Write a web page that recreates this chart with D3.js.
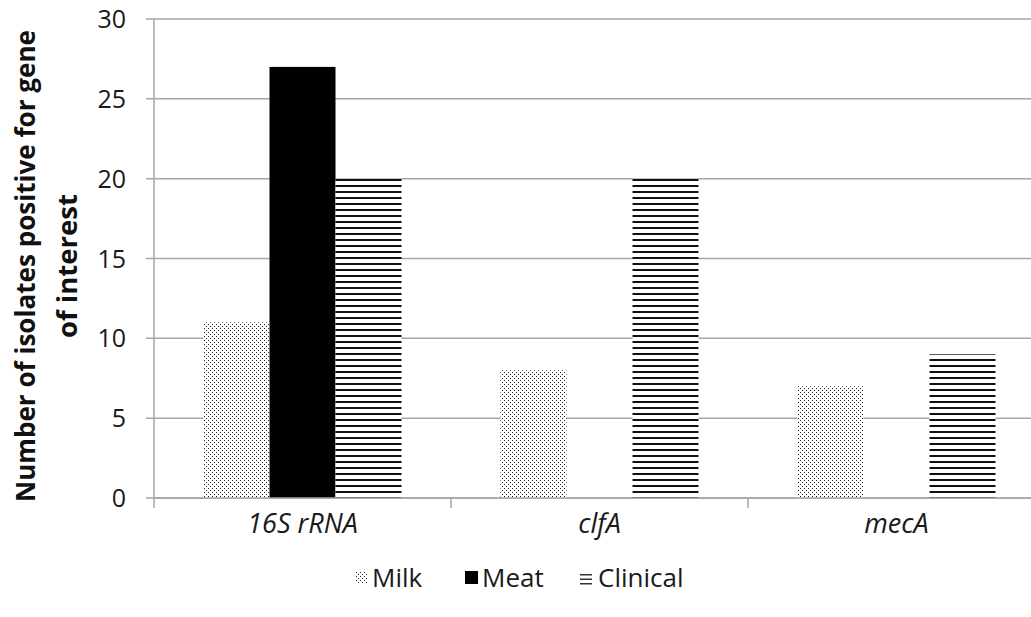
<!DOCTYPE html>
<html><head><meta charset="utf-8">
<script src="https://cdn.jsdelivr.net/npm/d3@7"></script>
<style>body{margin:0;background:#fff;} svg{display:block;}</style>
</head><body><svg id="c" width="1031" height="617"></svg>
<script>
const categories = ["16S rRNA", "clfA", "mecA"];
const seriesNames = ["Milk", "Meat", "Clinical"];
const milk = [11, 8, 7];
const meat = [27, 0, 0];
const clinical = [20, 20, 9];
const yTicks = [0, 5, 10, 15, 20, 25, 30];
const yTitle = ["Number of isolates positive for gene", "of interest"];

const values = [milk, meat, clinical];
const svg = d3.select("#c");
const font = "'Open Sans', 'Liberation Sans', Arial, sans-serif";
const margin = {left: 154, top: 19, bottom: 498, right: 1045};

const defs = svg.append("defs");
const pd = defs.append("pattern").attr("id","dots").attr("patternUnits","userSpaceOnUse")
  .attr("width",4).attr("height",4);
pd.append("rect").attr("width",4).attr("height",4).attr("fill","#fff");
pd.append("rect").attr("x",0).attr("y",0).attr("width",1).attr("height",1).attr("fill","#222");
pd.append("rect").attr("x",2).attr("y",2).attr("width",1).attr("height",1).attr("fill","#222");
const ph = defs.append("pattern").attr("id","hlines").attr("patternUnits","userSpaceOnUse")
  .attr("width",6).attr("height",6).attr("y",1);
ph.append("rect").attr("width",6).attr("height",6).attr("fill","#fff");
ph.append("rect").attr("x",0).attr("y",4).attr("width",6).attr("height",2).attr("fill","#111");
const fills = ["url(#dots)", "#000", "url(#hlines)"];

const y = d3.scaleLinear().domain([0,30]).range([margin.bottom, margin.top]);
const x0 = d3.scaleBand().domain(categories).range([margin.left, margin.right]).paddingInner(0).paddingOuter(0);
const x1 = d3.scaleBand().domain(seriesNames).range([0, x0.bandwidth()]).paddingOuter(0.75).paddingInner(0);

// gridlines
svg.append("g").selectAll("line").data(yTicks).join("line")
  .attr("x1", margin.left - 8).attr("x2", margin.right)
  .attr("y1", d=>y(d)).attr("y2", d=>y(d))
  .attr("stroke","#a6a6a6").attr("stroke-width",1.5);

// y axis line
svg.append("line").attr("x1",margin.left).attr("x2",margin.left)
  .attr("y1",y(30)).attr("y2",y(0)).attr("stroke","#a6a6a6").attr("stroke-width",1.5);

// bars
const g = svg.append("g");
categories.forEach((c,i)=>{
  seriesNames.forEach((s,j)=>{
    const v = values[j][i];
    if (v<=0) return;
    g.append("rect").attr("x", x0(c)+x1(s)).attr("width", x1.bandwidth())
      .attr("y", y(v)).attr("height", y(0)-y(v)).attr("fill", fills[j]);
  });
});

// x axis line + ticks
svg.append("line").attr("x1",margin.left).attr("x2",margin.right)
  .attr("y1",y(0)).attr("y2",y(0)).attr("stroke","#a6a6a6").attr("stroke-width",1.5);
const catEdges = categories.map(c=>x0(c)).concat([margin.right]);
svg.append("g").selectAll("line").data(catEdges).join("line")
  .attr("x1",d=>d).attr("x2",d=>d).attr("y1",y(0)).attr("y2",y(0)+10)
  .attr("stroke","#a6a6a6").attr("stroke-width",1.5);

// y tick labels
svg.append("g").selectAll("text").data(yTicks).join("text")
  .attr("x", 126).attr("y", d=>y(d)+9).attr("text-anchor","end")
  .attr("font-family",font).attr("font-size",25).attr("fill","#1a1a1a").text(d=>d);

// category labels
svg.append("g").selectAll("text").data(categories).join("text")
  .attr("x", d=>x0(d)+x0.bandwidth()/2).attr("y", 533).attr("text-anchor","middle")
  .attr("font-family",font).attr("font-size",27).attr("font-style","italic").attr("fill","#1a1a1a").text(d=>d);

// y title
const yt = svg.append("text").attr("transform","translate(0,266) rotate(-90)")
  .attr("text-anchor","middle").attr("font-family",font).attr("font-size",26).attr("font-weight","bold").attr("fill","#111");
yt.append("tspan").attr("x",0).attr("y",35).attr("textLength",472).attr("lengthAdjust","spacingAndGlyphs").text(yTitle[0]);
yt.append("tspan").attr("x",0).attr("y",77).attr("textLength",144).attr("lengthAdjust","spacingAndGlyphs").text(yTitle[1]);

// legend
const leg = svg.append("g").attr("font-family",font).attr("font-size",26).attr("fill","#1a1a1a");
const legX = [356, 465, 578];
leg.append("rect").attr("x",legX[0]).attr("y",572).attr("width",12).attr("height",12).attr("fill","url(#dots)");
leg.append("text").attr("x",legX[0]+16).attr("y",587).text(seriesNames[0]);
leg.append("rect").attr("x",legX[1]).attr("y",571).attr("width",13).attr("height",13).attr("fill","#000");
leg.append("text").attr("x",legX[1]+17).attr("y",587).text(seriesNames[1]);
[0,1,2].forEach(k=>{
  leg.append("rect").attr("x",legX[2]+2).attr("y",574+k*4.5).attr("width",12).attr("height",1.5).attr("fill","#333");
});
leg.append("text").attr("x",legX[2]+20).attr("y",587).text(seriesNames[2]);
</script></body></html>
